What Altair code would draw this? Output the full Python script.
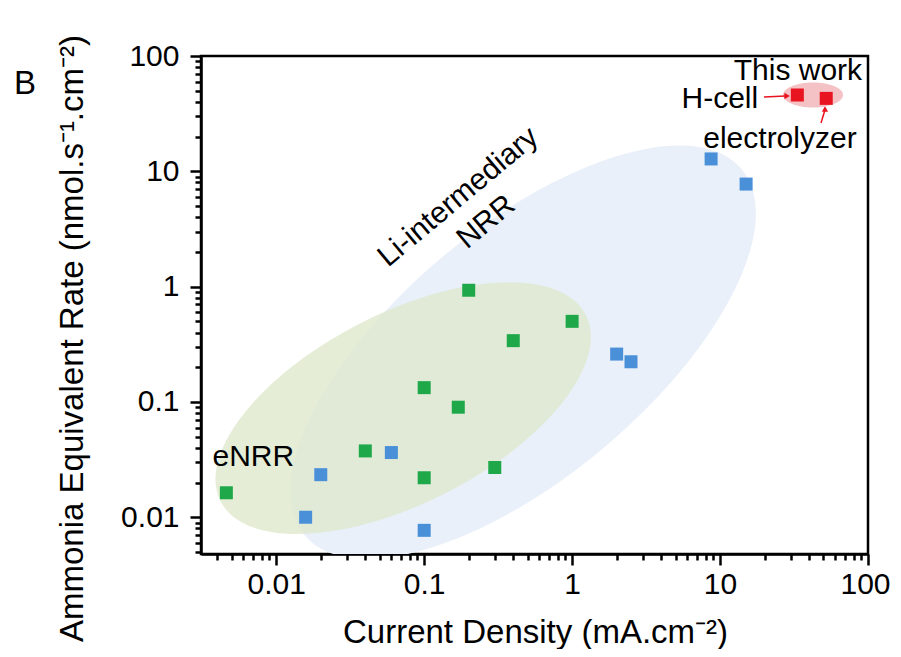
import altair as alt
import pandas as pd

# ---------------- data ----------------
green_x = [0.0046, 0.04, 0.1, 0.3, 0.1, 0.17, 0.2, 0.4, 1.0]
green_y = [0.0163, 0.0376, 0.022, 0.027, 0.133, 0.09, 0.93, 0.34, 0.5]
blue_x = [0.0158, 0.02, 0.06, 0.1, 2.0, 2.5, 8.7, 15.0]
blue_y = [0.0100, 0.0234, 0.0364, 0.0077, 0.26, 0.223, 12.8, 7.75]
red_x = [33.3, 52.2]
red_y = [45.9, 42.9]

# region ellipses: centre (data units)
ell_names = ["Li", "eNRR", "This work"]
ell_cx = [0.467, 0.0721, 42.5]
ell_cy = [0.270, 0.0883, 45.9]

x_ticks = [round(m * 10 ** e, 6) for e in range(-3, 2) for m in range(1, 10)
           if 0.003 <= m * 10 ** e <= 100] + [100]
y_ticks = [round(m * 10 ** e, 6) for e in range(-3, 2) for m in range(1, 10)
           if 0.005 <= m * 10 ** e <= 100] + [100]

FONT = "Liberation Sans"
MAJOR = "abs(log(datum.value)/LN10 - round(log(datum.value)/LN10)) < 1e-6"

pts = pd.DataFrame({
    "x": green_x + blue_x + red_x,
    "y": green_y + blue_y + red_y,
    "g": ["green"] * len(green_x) + ["blue"] * len(blue_x) + ["red"] * len(red_x),
})
ell = pd.DataFrame({"name": ell_names, "x": ell_cx, "y": ell_cy})

xscale = alt.Scale(type="log", domain=[0.0031, 100], nice=False)
yscale = alt.Scale(type="log", domain=[0.0048, 100], nice=False)

x_enc = alt.X("x:Q", scale=xscale, title="Current Density (mA.cm⁻²)",
              axis=alt.Axis(values=x_ticks,
                            labelExpr=f"{MAJOR} ? format(datum.value, '~g') : ''",
                            tickSize={"condition": {"test": MAJOR, "value": 11}, "value": 6},
                            labelOffset={"condition": {"test": "datum.value >= 100", "value": -3}, "value": 0},
                            labelPadding=4, labelOverlap=False, labelFlush=False,
                            titleX=334, titleY=78, titleAlign="center",
                            titleBaseline="middle"))
y_enc = alt.Y("y:Q", scale=yscale, title="Ammonia Equivalent Rate (nmol.s⁻¹.cm⁻²)",
              axis=alt.Axis(values=y_ticks,
                            labelExpr=f"{MAJOR} ? format(datum.value, '~g') : ''",
                            tickSize={"condition": {"test": MAJOR, "value": 11}, "value": 6},
                            labelPadding=11, labelOverlap=False, labelFlush=False,
                            titleX=-129, titleY=282, titleAngle=270,
                            titleAlign="center", titleBaseline="middle"))


def ellipse_path(ratio):
    k = 0.5523
    r = ratio
    return (f"M 1 0 C 1 {k*r:.4f} {k} {r:.4f} 0 {r:.4f} "
            f"C {-k} {r:.4f} -1 {k*r:.4f} -1 0 "
            f"C -1 {-k*r:.4f} {-k} {-r:.4f} 0 {-r:.4f} "
            f"C {k} {-r:.4f} 1 {-k*r:.4f} 1 0 Z")


def ellipse_layer(name, semi_major, semi_minor, angle, color, opacity):
    return alt.Chart(ell).transform_filter(alt.datum.name == name).mark_point(
        shape=ellipse_path(semi_minor / semi_major), filled=True, fill=color,
        opacity=opacity, strokeWidth=0, angle=angle, size=(2 * semi_major) ** 2,
        clip=True,
    ).encode(x=x_enc, y=y_enc)


blue_ell = ellipse_layer("Li", 285, 125, 320, "#e9f0f9", 1.0)
green_ell = ellipse_layer("eNRR", 205, 95, 333, "#dfe9cd", 0.8)
red_ell = ellipse_layer("This work", 30, 12.5, 0, "#f4c2c4", 1.0)

points = alt.Chart(pts).mark_square(size=169, opacity=1).encode(
    x=x_enc, y=y_enc,
    color=alt.Color("g:N", scale=alt.Scale(domain=["green", "blue", "red"],
                                          range=["#1ea84a", "#4a90d9", "#e8141f"]),
                    legend=None),
)

# annotations
ann = pd.DataFrame({
    "x": [0.0070, 33.6, 25.4],
    "y": [0.0332, 74.1, 19.0],
    "t": ["eNRR", "This work", "electrolyzer"],
})
ann_text = alt.Chart(ann).mark_text(font=FONT, fontSize=30, color="black",
                                    align="center", baseline="middle").encode(
    x=x_enc, y=y_enc, text="t:N")

hcell = alt.Chart(pd.DataFrame({"x": [18.1], "y": [42.4], "t": ["H-cell"]})).mark_text(
    font=FONT, fontSize=30, color="black", align="right", baseline="middle").encode(
    x=x_enc, y=y_enc, text="t:N")

li = pd.DataFrame({"x": [0.170, 0.262], "y": [5.98, 3.63], "t": ["Li-intermediary", "NRR"]})
li_text = alt.Chart(li).mark_text(font=FONT, fontSize=30, color="black", angle=320,
                                  align="center", baseline="middle").encode(
    x=x_enc, y=y_enc, text="t:N")

arrows = pd.DataFrame({
    "x": [19.8, 48.1], "x2": [27.6, 51.0],
    "y": [44.1, 26.2], "y2": [44.9, 33.5],
})
arrow_lines = alt.Chart(arrows).mark_rule(color="#e8141f", strokeWidth=1.5).encode(
    x=x_enc, y=y_enc, x2="x2:Q", y2="y2:Q")
heads = pd.DataFrame({"x": [28.4, 51.2], "y": [45.0, 34.7], "s": ["triangle-right", "triangle-up"]})
arrow_heads = alt.Chart(heads).mark_point(filled=True, color="#e8141f", size=40, opacity=1).encode(
    x=x_enc, y=y_enc, shape=alt.Shape("s:N", scale=None))

panel = alt.Chart(pd.DataFrame({"t": ["B"]})).mark_text(
    font=FONT, fontSize=33, color="black", align="left", baseline="middle").encode(
    x=alt.value(-187), y=alt.value(28), text="t:N")

chart = alt.layer(
    blue_ell, green_ell, red_ell, points, ann_text, hcell, li_text,
    arrow_lines, arrow_heads, panel,
).properties(
    width=667, height=498,
    autosize=alt.AutoSizeParams(type="none"),
    padding={"left": 193, "top": 48, "right": 25, "bottom": 95},
).configure_view(
    stroke="black", strokeWidth=2.5,
).configure_axis(
    grid=False, domainColor="black", domainWidth=2.5, tickColor="black",
    tickWidth=2.5, labelFont=FONT, labelFontSize=30, labelColor="black",
    titleFont=FONT, titleFontSize=33, titleFontWeight="normal", titleColor="black",
)

chart.save("out.html", embed_options={"renderer": "svg", "actions": False})
